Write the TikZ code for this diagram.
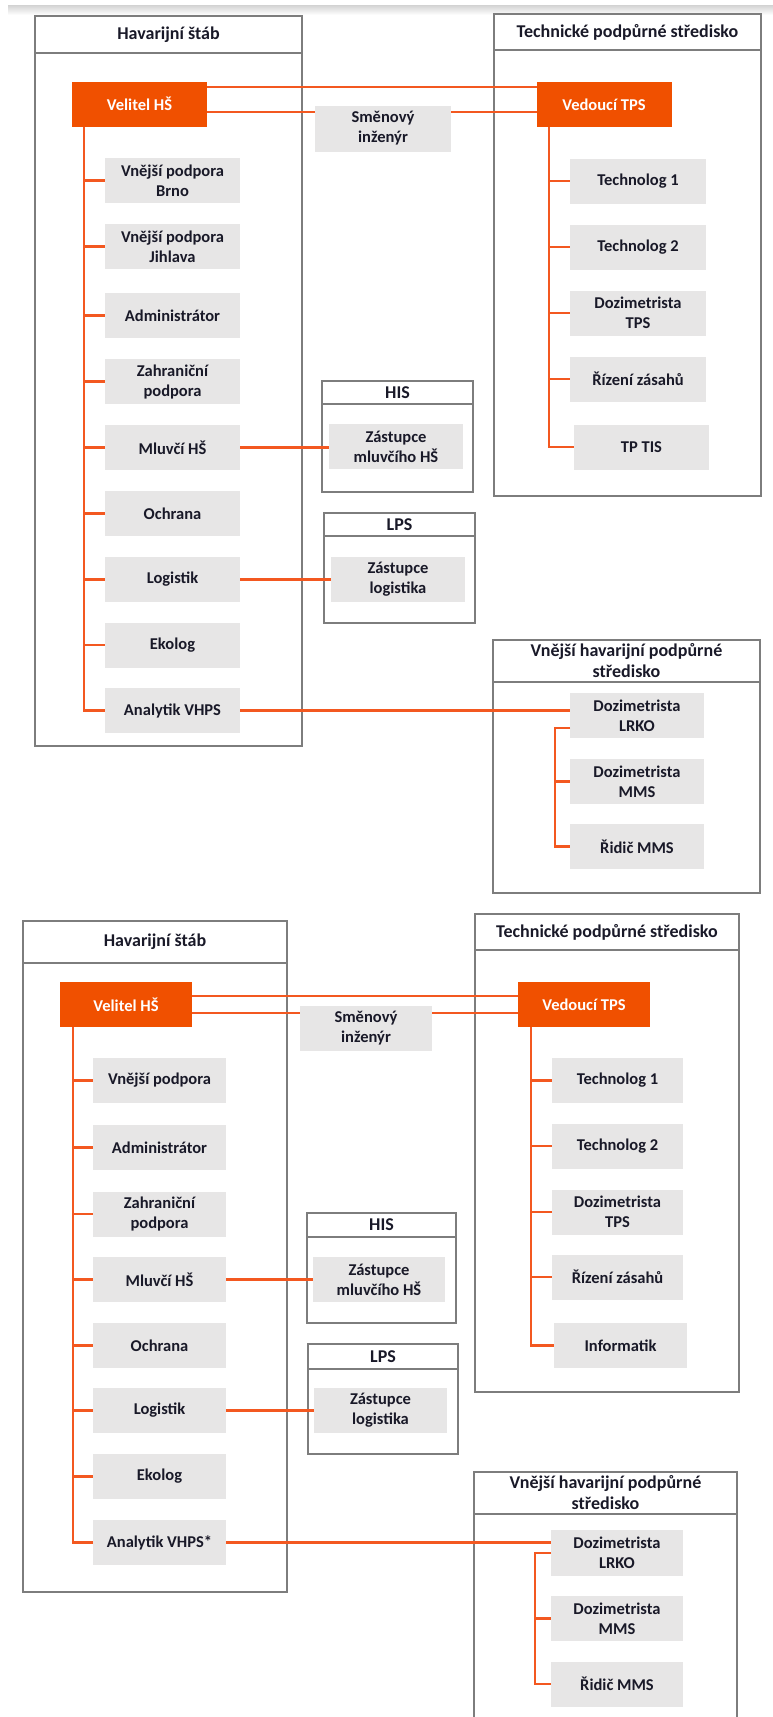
\documentclass[tikz,border=0pt]{standalone}
\usepackage{fontspec}
\setmainfont{Carlito}
\definecolor{org}{RGB}{240,80,0}
\definecolor{orl}{RGB}{243,88,32}
\definecolor{itg}{RGB}{231,230,230}
\definecolor{cgr}{RGB}{125,125,125}
\definecolor{txt}{RGB}{25,25,40}
\begin{document}
\begin{tikzpicture}[x=1pt,y=-1pt,
 itembox/.style={fill=itg, inner sep=0pt, outer sep=0pt, align=center, text=txt,
   font=\fontsize{16.5}{20}\selectfont\bfseries, minimum height=45pt},
 boss/.style={fill=org, inner sep=0pt, outer sep=0pt, text=white,
   font=\fontsize{16.5}{20}\selectfont\bfseries, minimum height=45pt},
 conthead/.style={draw=cgr, line width=2pt, inner sep=0pt, outer sep=0pt, anchor=north west,
   align=center, text=txt, font=\fontsize{18}{21}\selectfont\bfseries},
 contbody/.style={draw=cgr, line width=2pt, inner sep=0pt, outer sep=0pt, anchor=north west},
 link/.style={draw=orl, line width=2.6pt},
]
\useasboundingbox (0,0) rectangle (773,1717);
\clip (0,0) rectangle (773,1717);
\shade[top color=gray!35, bottom color=white] (8,5) rectangle (773,15);

% ===================== TOP DIAGRAM =====================
\node[conthead, minimum width=267pt, minimum height=37pt] (hsAh) at (35,16) {Havarijní štáb};
\node[contbody, minimum width=267pt, minimum height=693pt] (hsAb) at (35,53) {};
\node[conthead, minimum width=267pt, minimum height=36pt] (tpsAh) at (494,14) {Technické podpůrné středisko};
\node[contbody, minimum width=267pt, minimum height=446pt] (tpsAb) at (494,50) {};
\node[conthead, minimum width=151pt, minimum height=23pt] (hisAh) at (322,381) {HIS};
\node[contbody, minimum width=151pt, minimum height=88pt] (hisAb) at (322,404) {};
\node[conthead, minimum width=151pt, minimum height=23pt] (lpsAh) at (324,513) {LPS};
\node[contbody, minimum width=151pt, minimum height=87pt] (lpsAb) at (324,536) {};
\node[conthead, minimum width=267pt, minimum height=42pt] (vhAh) at (493,640) {Vnější havarijní podpůrné\\středisko};
\node[contbody, minimum width=267pt, minimum height=211pt] (vhAb) at (493,682) {};

\node[boss, minimum width=135pt] (velA) at (139.5,104) {Velitel HŠ};
\node[boss, minimum width=135pt] (vedA) at (604,104.5) {Vedoucí TPS};
\node[itembox, minimum width=136pt, minimum height=46pt] (smA) at (383,128.5) {Směnový\\inženýr};

\node[itembox, minimum width=135pt] (vpbA) at (172.5,180.5) {Vnější podpora\\Brno};
\node[itembox, minimum width=135pt] (vpjA) at (172.5,246.5) {Vnější podpora\\Jihlava};
\node[itembox, minimum width=135pt] (adA) at (172.5,315.5) {Administrátor};
\node[itembox, minimum width=135pt] (zpA) at (172.5,381.5) {Zahraniční\\podpora};
\node[itembox, minimum width=135pt] (mlA) at (172.5,447.5) {Mluvčí HŠ};
\node[itembox, minimum width=135pt] (ochA) at (172.5,513.5) {Ochrana};
\node[itembox, minimum width=135pt] (loA) at (172.5,579.5) {Logistik};
\node[itembox, minimum width=135pt] (ekA) at (172.5,645) {Ekolog};
\node[itembox, minimum width=135pt] (anA) at (172.5,710.5) {Analytik VHPS};

\node[itembox, minimum width=136pt] (t1A) at (638,181) {Technolog 1};
\node[itembox, minimum width=136pt] (t2A) at (638,247) {Technolog 2};
\node[itembox, minimum width=136pt] (dzA) at (638,313) {Dozimetrista\\TPS};
\node[itembox, minimum width=136pt] (rzA) at (638,379) {Řízení zásahů};
\node[itembox, minimum width=135pt] (tpA) at (641.5,447) {TP TIS};

\node[itembox, minimum width=134pt] (zmA) at (396,446.5) {Zástupce\\mluvčího HŠ};
\node[itembox, minimum width=134pt] (zlA) at (398,579.5) {Zástupce\\logistika};

\node[itembox, minimum width=134pt] (lrkoA) at (637,715.5) {Dozimetrista\\LRKO};
\node[itembox, minimum width=134pt] (mmsA) at (637,781.5) {Dozimetrista\\MMS};
\node[itembox, minimum width=134pt] (ridA) at (637,846.5) {Řidič MMS};

\coordinate (trHA) at (84,0);
\coordinate (trTA) at (549,0);
\coordinate (trVA) at (555,0);
\coordinate (la1) at ([yshift=17pt]velA.east);
\coordinate (la2) at ([yshift=-8pt]velA.east);
\coordinate (lv1) at ([yshift=-12.5pt]lrkoA.west);

\draw[link] (la1) -- (la1 -| vedA.west);
\draw[link] (la2) -- (la2 -| smA.west);
\draw[link] (la2 -| smA.east) -- (la2 -| vedA.west);
\draw[link] (velA.south -| trHA) |- (anA.west);
\foreach \n in {vpbA,vpjA,adA,zpA,mlA,ochA,loA,ekA}
  \draw[link] (trHA |- \n.west) -- (\n.west);
\draw[link] (vedA.south -| trTA) |- (tpA.west);
\foreach \n in {t1A,t2A,dzA,rzA}
  \draw[link] (trTA |- \n.west) -- (\n.west);
\draw[link] (mlA.east) -- (mlA.east -| zmA.west);
\draw[link] (loA.east) -- (loA.east -| zlA.west);
\draw[link] (anA.east) -- (anA.east -| lrkoA.west);
\draw[link] (lv1) -- (lv1 -| trVA) |- (ridA.west);
\draw[link] (trVA |- mmsA.west) -- (mmsA.west);

% ===================== BOTTOM DIAGRAM =====================
\node[conthead, minimum width=264pt, minimum height=42pt] (hsBh) at (23,921) {Havarijní štáb};
\node[contbody, minimum width=264pt, minimum height=629pt] (hsBb) at (23,963) {};
\node[conthead, minimum width=264pt, minimum height=36pt] (tpsBh) at (475,914) {Technické podpůrné středisko};
\node[contbody, minimum width=264pt, minimum height=442pt] (tpsBb) at (475,950) {};
\node[conthead, minimum width=149pt, minimum height=24pt] (hisBh) at (307,1213) {HIS};
\node[contbody, minimum width=149pt, minimum height=86pt] (hisBb) at (307,1237) {};
\node[conthead, minimum width=150pt, minimum height=25pt] (lpsBh) at (308,1344) {LPS};
\node[contbody, minimum width=150pt, minimum height=85pt] (lpsBb) at (308,1369) {};
\node[conthead, minimum width=263pt, minimum height=42pt] (vhBh) at (474,1472) {Vnější havarijní podpůrné\\středisko};
\node[contbody, minimum width=263pt, minimum height=280pt] (vhBb) at (474,1514) {};

\node[boss, minimum width=132pt] (velB) at (126,1004.5) {Velitel HŠ};
\node[boss, minimum width=132pt] (vedB) at (584,1004.5) {Vedoucí TPS};
\node[itembox, minimum width=132pt] (smB) at (366,1028.5) {Směnový\\inženýr};

\node[itembox, minimum width=133pt] (vpB) at (159.5,1080.5) {Vnější podpora};
\node[itembox, minimum width=133pt] (adB) at (159.5,1147.5) {Administrátor};
\node[itembox, minimum width=133pt] (zpB) at (159.5,1214) {Zahraniční\\podpora};
\node[itembox, minimum width=133pt] (mlB) at (159.5,1279.5) {Mluvčí HŠ};
\node[itembox, minimum width=133pt] (ochB) at (159.5,1345.5) {Ochrana};
\node[itembox, minimum width=133pt] (loB) at (159.5,1410.5) {Logistik};
\node[itembox, minimum width=133pt] (ekB) at (159.5,1476.5) {Ekolog};
\node[itembox, minimum width=133pt] (anB) at (159.5,1542.5) {Analytik VHPS*};

\node[itembox, minimum width=131pt] (t1B) at (617.5,1080.5) {Technolog 1};
\node[itembox, minimum width=131pt] (t2B) at (617.5,1146) {Technolog 2};
\node[itembox, minimum width=131pt] (dzB) at (617.5,1212) {Dozimetrista\\TPS};
\node[itembox, minimum width=131pt] (rzB) at (617.5,1277) {Řízení zásahů};
\node[itembox, minimum width=133pt] (infB) at (620.5,1345.5) {Informatik};

\node[itembox, minimum width=132pt] (zmB) at (379,1279.5) {Zástupce\\mluvčího HŠ};
\node[itembox, minimum width=133pt] (zlB) at (380.5,1410.5) {Zástupce\\logistika};

\node[itembox, minimum width=132pt, minimum height=46pt] (lrkoB) at (617,1553) {Dozimetrista\\LRKO};
\node[itembox, minimum width=132pt] (mmsB) at (617,1618.5) {Dozimetrista\\MMS};
\node[itembox, minimum width=132pt] (ridB) at (617,1684) {Řidič MMS};

\coordinate (trHB) at (73,0);
\coordinate (trTB) at (531,0);
\coordinate (trVB) at (535,0);
\coordinate (lb1) at ([yshift=8.5pt]velB.east);
\coordinate (lb2) at ([yshift=-8.5pt]velB.east);

\draw[link] (lb1) -- (lb1 -| vedB.west);
\draw[link] (lb2) -- (lb2 -| smB.west);
\draw[link] (lb2 -| smB.east) -- (lb2 -| vedB.west);
\draw[link] (velB.south -| trHB) |- (anB.west);
\foreach \n in {vpB,adB,zpB,mlB,ochB,loB,ekB}
  \draw[link] (trHB |- \n.west) -- (\n.west);
\draw[link] (vedB.south -| trTB) |- (infB.west);
\foreach \n in {t1B,t2B,dzB,rzB}
  \draw[link] (trTB |- \n.west) -- (\n.west);
\draw[link] (mlB.east) -- (mlB.east -| zmB.west);
\draw[link] (loB.east) -- (loB.east -| zlB.west);
\draw[link] (anB.east) -- (anB.east -| lrkoB.west);
\draw[link] (lrkoB.west) -- (lrkoB.west -| trVB) |- (ridB.west);
\draw[link] (trVB |- mmsB.west) -- (mmsB.west);
\end{tikzpicture}
\end{document}
